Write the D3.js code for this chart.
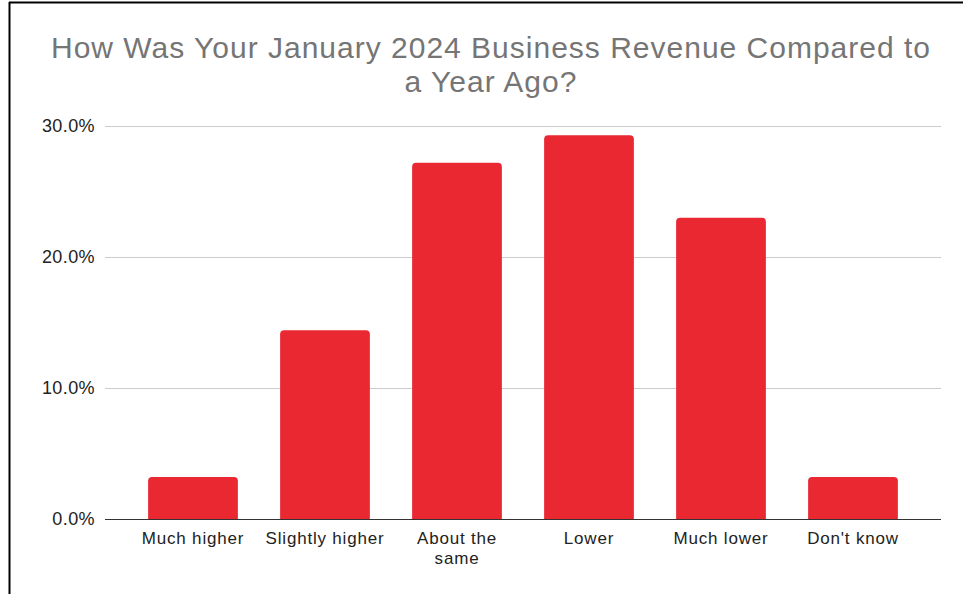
<!DOCTYPE html>
<html>
<head>
<meta charset="utf-8">
<script src="https://cdn.jsdelivr.net/npm/d3@7"></script>
<style>
  html, body { margin: 0; padding: 0; background: #fff; }
  svg { display: block; font-family: "Liberation Sans", Arial, sans-serif; }
</style>
</head>
<body>
<svg id="chart" width="963" height="594"></svg>
<script>
// Survey responses: share of businesses by revenue change
const categories = ["Much higher", "Slightly higher", "About the same", "Lower", "Much lower", "Don't know"];
const shares = [3.2, 14.4, 27.2, 29.3, 23.0, 3.2];
const tickValues = [0, 10, 20, 30];
const titleLines = ["How Was Your January 2024 Business Revenue Compared to", "a Year Ago?"];

const svg = d3.select("#chart");
const W = 963, H = 594;

// frame lines (top and left)
svg.append("line").attr("x1", 9).attr("x2", W).attr("y1", 2.5).attr("y2", 2.5)
  .attr("stroke", "#000").attr("stroke-width", 2);
svg.append("line").attr("x1", 9.5).attr("x2", 9.5).attr("y1", 2).attr("y2", H)
  .attr("stroke", "#000").attr("stroke-width", 2);

// title
svg.append("text")
  .attr("text-anchor", "middle")
  .attr("fill", "#757575").attr("font-size", 30).attr("letter-spacing", 1)
  .selectAll("tspan").data(titleLines).join("tspan")
  .attr("x", 491).attr("y", (d, i) => 58 + i * 34)
  .text(d => d);

const y = d3.scaleLinear().domain([0, 30]).range([519, 126]);
const x = d3.scaleBand().domain(categories).range([127, 919])
  .paddingInner(0.32).paddingOuter(0.16);

const gridLeft = 105, gridRight = 941;

// horizontal gridlines
svg.append("g").selectAll("line").data(tickValues.filter(t => t > 0)).join("line")
  .attr("x1", gridLeft).attr("x2", gridRight)
  .attr("y1", d => Math.round(y(d)) + 0.5).attr("y2", d => Math.round(y(d)) + 0.5)
  .attr("stroke", "#cccccc").attr("stroke-width", 1);

// y tick labels
const yAxis = d3.axisLeft(y).tickValues(tickValues).tickSize(0).tickPadding(0)
  .tickFormat(d => d.toFixed(1) + "%");
const gy = svg.append("g").attr("transform", `translate(95,0)`).call(yAxis);
gy.select(".domain").remove();
gy.selectAll("text").attr("font-size", 18).attr("letter-spacing", 0.4).attr("fill", "#222")
  .attr("font-family", "Liberation Sans, Arial, sans-serif");

// bars with rounded top corners
const r = 4;
function barPath(d, i) {
  const x0 = x(categories[i]), w = x.bandwidth();
  const yt = y(d), yb = y(0);
  return `M${x0},${yb} L${x0},${yt + r} Q${x0},${yt} ${x0 + r},${yt} L${x0 + w - r},${yt} Q${x0 + w},${yt} ${x0 + w},${yt + r} L${x0 + w},${yb} Z`;
}
svg.append("g").selectAll("path").data(shares).join("path")
  .attr("d", barPath)
  .attr("fill", "#ea2832");

// baseline
svg.append("line").attr("x1", gridLeft).attr("x2", gridRight)
  .attr("y1", y(0) + 0.5).attr("y2", y(0) + 0.5)
  .attr("stroke", "#333").attr("stroke-width", 1.2);

// x axis labels, wrapped to band width
const xAxis = d3.axisBottom(x).tickSize(0).tickPadding(0);
const gx = svg.append("g").attr("transform", `translate(0,${y(0)})`).call(xAxis);
gx.select(".domain").remove();
gx.selectAll("text")
  .attr("font-size", 17).attr("letter-spacing", 0.8).attr("fill", "#222")
  .attr("font-family", "Liberation Sans, Arial, sans-serif")
  .attr("dy", null).attr("y", 0)
  .each(function (d) {
    const t = d3.select(this);
    const lines = d === "About the same" ? ["About the", "same"] : [d];
    t.text(null);
    lines.forEach((ln, i) => {
      t.append("tspan").attr("x", 0).attr("y", 25 + i * 20).text(ln);
    });
  });
</script>
</body>
</html>
